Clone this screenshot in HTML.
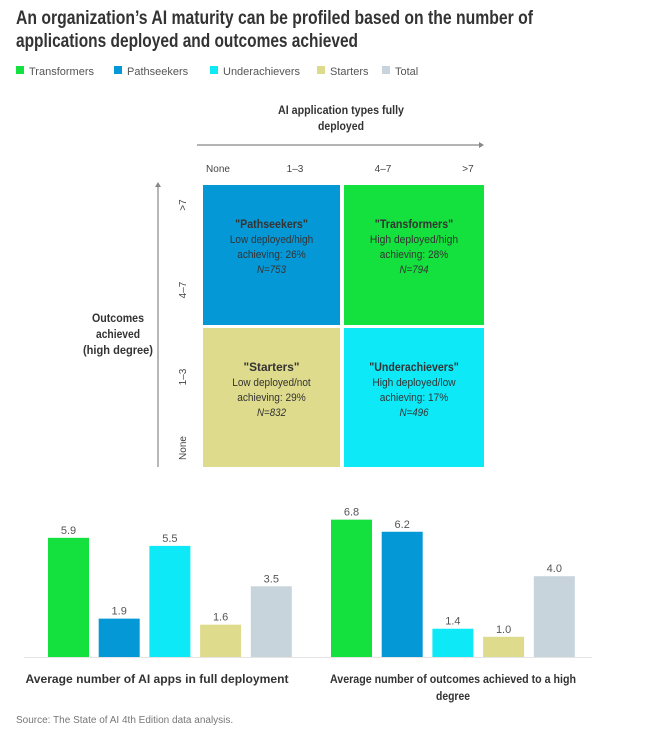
<!DOCTYPE html>
<html><head><meta charset="utf-8"><style>
body{margin:0;background:#fff;width:657px;height:739px;overflow:hidden;font-family:"Liberation Sans",sans-serif;}
svg text{font-family:"Liberation Sans",sans-serif;}
</style></head><body>
<svg width="657" height="739">
<g font-size="19" font-weight="bold" fill="#333">
<text x="16" y="24" textLength="517" lengthAdjust="spacingAndGlyphs">An organization’s AI maturity can be profiled based on the number of</text>
<text x="16" y="47" textLength="342" lengthAdjust="spacingAndGlyphs">applications deployed and outcomes achieved</text>
</g>
<g id="legend" font-size="11" fill="#555"></g>
<g>
<text x="341" y="114" text-anchor="middle" font-size="12" font-weight="bold" fill="#333" textLength="126" lengthAdjust="spacingAndGlyphs">AI application types fully</text>
<text x="341" y="130" text-anchor="middle" font-size="12" font-weight="bold" fill="#333" textLength="46" lengthAdjust="spacingAndGlyphs">deployed</text>
<line x1="197" y1="145" x2="481" y2="145" stroke="#888" stroke-width="1.2"/>
<path d="M484 145 l-5 -3 v6z" fill="#888"/>
<g font-size="10" fill="#444">
<text x="218" y="172" text-anchor="middle">None</text><text x="295" y="172" text-anchor="middle">1–3</text>
<text x="383" y="172" text-anchor="middle">4–7</text><text x="468" y="172" text-anchor="middle">&gt;7</text></g>
<line x1="158" y1="186" x2="158" y2="467" stroke="#888" stroke-width="1.2"/>
<path d="M158 182 l-3 5 h6z" fill="#888"/>
<g font-size="10" fill="#444">
<text transform="translate(186,205) rotate(-90)" text-anchor="middle">&gt;7</text>
<text transform="translate(186,290) rotate(-90)" text-anchor="middle">4–7</text>
<text transform="translate(186,377) rotate(-90)" text-anchor="middle">1–3</text>
<text transform="translate(186,448) rotate(-90)" text-anchor="middle">None</text></g>
<g font-size="12" font-weight="bold" fill="#333" text-anchor="middle">
<text x="118" y="322" textLength="52" lengthAdjust="spacingAndGlyphs">Outcomes</text><text x="118" y="338" textLength="44" lengthAdjust="spacingAndGlyphs">achieved</text><text x="118" y="354" textLength="70" lengthAdjust="spacingAndGlyphs">(high degree)</text></g>
<g id="cells"></g>
</g>
<g id="bars"></g>
<g font-size="12" font-weight="bold" fill="#333" text-anchor="middle">
<text x="157" y="683" textLength="263" lengthAdjust="spacingAndGlyphs">Average number of AI apps in full deployment</text>
<text x="453" y="683" textLength="246" lengthAdjust="spacingAndGlyphs">Average number of outcomes achieved to a high</text>
<text x="453" y="700" textLength="34" lengthAdjust="spacingAndGlyphs">degree</text></g>
<text x="16" y="723" font-size="10" fill="#777">Source: The State of AI 4th Edition data analysis.</text>
</svg>
<script>
const NS="http://www.w3.org/2000/svg";
const categories=["Transformers","Pathseekers","Underachievers","Starters","Total"];
const colors=["#14e03e","#0598d6","#0de9f7","#dedb8c","#c8d4db"];
const appsValues=[5.9,1.9,5.5,1.6,3.5];
const outcomeValues=[6.8,6.2,1.4,1.0,4.0];
function mk(t,a,p){const e=document.createElementNS(NS,t);for(const k in a)e.setAttribute(k,a[k]);p.appendChild(e);return e;}
const lg=document.getElementById('legend');
const lx=[16,114,210,317,382];
categories.forEach((c,i)=>{
 const r=mk('rect',{x:lx[i],y:66,width:8,height:8,fill:colors[i]},lg);
 
 
 const t=mk('text',{x:lx[i]+13,y:75},lg);t.textContent=c;
 
 
});
const cells=[
 {x:203,y:185,w:137,h:140,f:colors[1],t:['"Pathseekers"','Low deployed/high','achieving: 26%','N=753'],n:'pathseekers'},
 {x:344,y:185,w:140,h:140,f:colors[0],t:['"Transformers"','High deployed/high','achieving: 28%','N=794'],n:'transformers'},
 {x:203,y:328,w:137,h:139,f:colors[3],t:['"Starters"','Low deployed/not','achieving: 29%','N=832'],n:'starters'},
 {x:344,y:328,w:140,h:139,f:colors[2],t:['"Underachievers"','High deployed/low','achieving: 17%','N=496'],n:'underachievers'}];
const cg=document.getElementById('cells');
cells.forEach(c=>{
 const g=mk('g',{},cg);
 
 
 mk('rect',{x:c.x,y:c.y,width:c.w,height:c.h,fill:c.f},g);
 const cx=c.x+c.w/2;
 c.t.forEach((s,i)=>{
  const a={x:cx,y:c.y+43+i*15,'text-anchor':'middle','font-size':i==0?12:11,fill:'#333'};
  if(i==0){a['font-weight']='bold';a['textLength']=s.length*5.6;a['lengthAdjust']='spacingAndGlyphs';}
  else if(i<3){a['textLength']=s.length*4.9;a['lengthAdjust']='spacingAndGlyphs';}
  else {a['textLength']=s.length*5.8;a['lengthAdjust']='spacingAndGlyphs';a['font-style']='italic';}
  const t=mk('text',a,g);t.textContent=s;
 });
});
const bg=document.getElementById('bars');
const base=657,unit=20.2,bw=41;
function yS(v){return base-v*unit;}
function drawGroup(vals,x0,name){
 vals.forEach((v,i)=>{
  const x=x0+i*50.7;
  const r=mk('rect',{x:x,y:yS(v),width:bw,height:base-yS(v),fill:colors[i]},bg);
  
  
  const t=mk('text',{x:x+bw/2,y:yS(v)-4,'text-anchor':'middle','font-size':11,fill:'#555'},bg);
  t.textContent=v.toFixed(1);
  
  
 });
}
mk('line',{x1:24,y1:base+.5,x2:592,y2:base+.5,stroke:'#e4e4e4'},bg);
drawGroup(appsValues,48,'apps');
drawGroup(outcomeValues,331,'outcomes');
</script>
</body></html>
